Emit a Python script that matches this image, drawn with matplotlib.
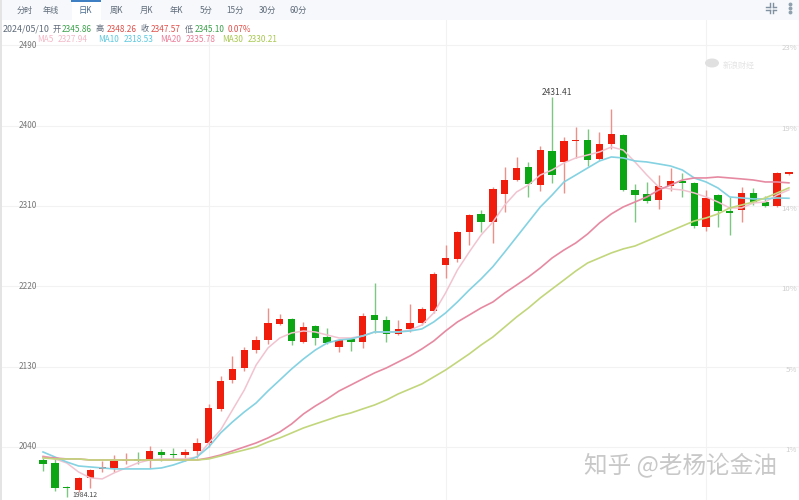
import matplotlib
matplotlib.use('Agg')
import matplotlib.pyplot as plt
from matplotlib.patches import Rectangle, Ellipse
import numpy as np

plt.rcParams['font.family'] = ['Noto Sans CJK SC', 'DejaVu Sans']

# daily candles, price units
opens = [2025.4, 2022.1, 1995.2, 1991.8, 2005.3, 2015.4, 2016.5, 2024.3, 2026.6, 2025.4, 2034.4, 2032.2, 2031.0, 2035.5,
         2044.5, 2082.6, 2115.0, 2128.5, 2148.6, 2159.8, 2177.8, 2183.4, 2157.6, 2175.5, 2163.2, 2152.0, 2161.0, 2157.6,
         2187.8, 2182.2, 2166.6, 2172.2, 2178.9, 2192.3, 2243.8, 2250.6, 2280.8, 2301.0, 2292.0, 2323.4, 2339.0, 2353.6,
         2333.4, 2371.5, 2359.2, 2382.2, 2383.8, 2362.6, 2379.4, 2389.4, 2327.8, 2323.4, 2316.6, 2332.3, 2337.9, 2335.7,
         2286.4, 2322.2, 2304.3, 2305.4, 2324.5, 2314.4, 2309.9, 2345.86]
closes = [2021.0, 1994.1, 1994.1, 2005.3, 2014.2, 2017.6, 2024.3, 2025.4, 2024.3, 2035.5, 2031.0, 2031.0, 2034.4, 2044.5,
          2083.7, 2113.9, 2127.4, 2148.6, 2159.8, 2178.9, 2183.4, 2158.7, 2174.4, 2162.1, 2156.5, 2159.8, 2157.6, 2186.7,
          2182.2, 2166.6, 2172.2, 2178.9, 2194.6, 2233.8, 2251.7, 2280.8, 2299.8, 2292.0, 2329.0, 2339.0, 2352.5, 2334.6,
          2372.6, 2344.6, 2382.7, 2383.3, 2361.4, 2379.4, 2390.6, 2327.8, 2322.2, 2315.5, 2332.3, 2337.9, 2335.7, 2287.5,
          2318.9, 2304.3, 2302.1, 2324.5, 2314.4, 2309.9, 2346.9, 2347.57]
highs = [2027.7, 2026.6, 1996.3, 2006.4, 2015.4, 2024.3, 2031.0, 2033.3, 2034.4, 2041.1, 2037.8, 2038.9, 2037.8, 2050.1,
         2088.2, 2119.5, 2141.9, 2152.0, 2164.3, 2195.7, 2189.0, 2184.5, 2180.0, 2176.6, 2173.3, 2161.0, 2162.1, 2190.1,
         2223.7, 2186.7, 2182.2, 2200.2, 2196.8, 2236.0, 2266.2, 2281.9, 2301.0, 2305.4, 2331.2, 2353.6, 2364.8, 2359.2,
         2377.1, 2431.41, 2387.2, 2398.4, 2396.2, 2392.8, 2418.6, 2390.6, 2334.6, 2336.8, 2344.6, 2352.5, 2346.9, 2336.8,
         2327.8, 2323.4, 2320.0, 2331.2, 2330.1, 2321.1, 2348.0, 2348.26]
lows = [2013.1, 1990.7, 1984.12, 1989.6, 1994.1, 2012.0, 2012.0, 2021.0, 2021.0, 2016.5, 2024.3, 2026.6, 2024.3, 2027.7,
        2040.0, 2080.3, 2111.7, 2125.1, 2145.3, 2155.4, 2176.6, 2154.2, 2156.5, 2154.2, 2155.4, 2146.4, 2147.5, 2150.9,
        2167.7, 2157.6, 2165.4, 2168.8, 2176.6, 2190.1, 2229.3, 2247.2, 2266.2, 2280.8, 2268.5, 2303.2, 2337.9, 2320.0,
        2326.7, 2335.7, 2324.5, 2363.7, 2354.7, 2361.4, 2373.8, 2326.7, 2292.0, 2313.3, 2306.6, 2326.7, 2320.0, 2285.3,
        2281.9, 2286.4, 2277.4, 2292.0, 2311.0, 2308.8, 2308.8, 2345.10]

ma5 = [2029.9, 2026.6, 2022.1, 2012.0, 2005.3, 2004.2, 2010.9, 2016.5, 2022.1, 2025.4, 2026.6, 2026.6, 2026.6, 2028.8,
       2044.5, 2059.0, 2081.4, 2103.8, 2131.8, 2150.9, 2162.1, 2167.7, 2169.9, 2168.8, 2165.4, 2162.1, 2162.1, 2164.3,
       2168.8, 2168.8, 2168.8, 2171.0, 2176.6, 2190.1, 2212.5, 2238.2, 2258.4, 2277.4, 2292.0, 2311.0, 2325.6, 2333.4,
       2344.6, 2350.2, 2358.1, 2363.7, 2367.0, 2370.4, 2376.0, 2372.6, 2359.2, 2344.6, 2331.2, 2329.0, 2327.8, 2324.5,
       2320.0, 2314.4, 2307.7, 2307.7, 2313.3, 2314.4, 2322.2, 2327.94]
ma10 = [2034.4, 2028.8, 2023.2, 2018.7, 2017.6, 2016.5, 2015.4, 2015.4, 2015.4, 2015.4, 2016.5, 2019.8, 2024.3, 2028.8,
        2040.0, 2055.7, 2068.0, 2079.2, 2089.3, 2102.7, 2115.0, 2127.4, 2138.6, 2148.6, 2156.5, 2159.8, 2161.0, 2164.3,
        2168.8, 2168.8, 2168.8, 2169.9, 2172.2, 2180.0, 2190.1, 2202.4, 2215.8, 2228.2, 2242.0, 2258.4, 2275.2, 2292.0,
        2308.8, 2322.2, 2336.8, 2344.6, 2352.5, 2360.3, 2364.8, 2363.7, 2360.3, 2359.2, 2357.0, 2354.7, 2350.2, 2341.3,
        2336.8, 2330.1, 2320.0, 2318.9, 2317.8, 2317.8, 2318.9, 2318.53]
ma20 = [2028.8, 2027.7, 2026.6, 2026.6, 2025.4, 2025.4, 2025.4, 2025.4, 2025.4, 2025.4, 2025.4, 2025.4, 2025.4, 2025.4,
        2027.7, 2031.0, 2035.5, 2040.0, 2044.5, 2050.1, 2056.8, 2065.8, 2077.0, 2085.9, 2093.8, 2102.7, 2109.4, 2116.2,
        2122.9, 2128.5, 2135.2, 2141.9, 2149.8, 2158.7, 2169.9, 2180.0, 2187.8, 2195.7, 2202.4, 2212.5, 2221.4, 2230.4,
        2240.5, 2251.7, 2260.6, 2268.5, 2278.6, 2290.9, 2301.0, 2308.8, 2314.4, 2320.0, 2327.8, 2333.4, 2339.0, 2341.3,
        2341.3, 2342.4, 2341.3, 2340.2, 2339.0, 2336.8, 2336.8, 2335.78]
ma30 = [2027.7, 2026.6, 2026.6, 2026.6, 2025.4, 2025.4, 2025.4, 2025.4, 2025.4, 2025.4, 2025.4, 2025.4, 2025.4, 2025.4,
        2026.6, 2029.9, 2033.3, 2036.6, 2040.0, 2045.6, 2050.1, 2055.7, 2061.3, 2065.8, 2070.2, 2074.7, 2078.1, 2082.6,
        2087.0, 2092.6, 2099.4, 2105.0, 2110.6, 2118.4, 2126.2, 2135.2, 2144.2, 2154.2, 2163.2, 2174.4, 2185.6, 2195.7,
        2206.9, 2217.0, 2227.0, 2237.1, 2246.1, 2251.7, 2257.3, 2261.8, 2265.1, 2270.7, 2276.3, 2281.9, 2287.5, 2293.1,
        2296.5, 2301.0, 2307.7, 2311.0, 2314.4, 2318.9, 2324.5, 2330.21]

price_ticks = [2490, 2400, 2310, 2220, 2130, 2040]
pct_labels = ['23%', '19%', '14%', '10%', '5%', '1%']
month_ticks = [14, 34, 56]
tabs = ['分时', '年线', '日K', '周K', '月K', '年K', '5分', '15分', '30分', '60分']
tab_x = [25, 51, 85, 116, 146, 176, 206, 235, 267, 298]

RED = '#f01c0c'
GREEN = '#0ca514'
TXT = '#5f6b7a'

fig = plt.figure(figsize=(7.99, 5.0), dpi=100)
ax = fig.add_axes([0, 0, 1, 1])
ax.set_xlim(-3.632, 63.85)
ax.set_ylim(1980.6, 2540.6)
ax.axis('off')

# px helper axis for header and labels (y runs down)
px = fig.add_axes([0, 0, 1, 1], zorder=5)
px.set_xlim(0, 799)
px.set_ylim(500, 0)
px.axis('off')
px.patch.set_alpha(0)

for p in price_ticks:
    ax.axhline(p, color='#f2f2f2', lw=0.8, zorder=1)
for m in month_ticks:
    ax.axvline(m, color='#f2f2f2', lw=0.8, zorder=1)

idx = np.arange(len(opens))
o, c, h, l = map(np.array, (opens, closes, highs, lows))
cols = [RED if cc >= oo else GREEN for oo, cc in zip(o, c)]
wick_cols = ['#ee8f88' if cc >= oo else '#7cc880' for oo, cc in zip(o, c)]
ax.vlines(idx, l, h, colors=wick_cols, lw=1.0, zorder=2)
ax.bar(idx, np.maximum(np.abs(c - o), 1.2), bottom=np.minimum(o, c), width=0.62, color=cols,
       linewidth=0, zorder=3)

ax.plot(idx, ma5, color='#f1c3d0', lw=1.1, zorder=4)
ax.plot(idx, ma10, color='#84d2e2', lw=1.2, zorder=4)
ax.plot(idx, ma20, color='#e68aa2', lw=1.2, zorder=4)
ax.plot(idx, ma30, color='#c2d67c', lw=1.2, zorder=4)

# tab bar
px.add_patch(Rectangle((0, 0), 799, 20, color='#f6f8fb', lw=0, zorder=1))
px.add_patch(Rectangle((72, 0), 29, 21, color='white', lw=0, zorder=2))
px.add_patch(Rectangle((71, 0), 30, 1.5, color='#3f7fc4', lw=0, zorder=3))
px.add_patch(Rectangle((0, 0), 1.5, 500, color='#e4e4e4', lw=0, zorder=3))
for name, x in zip(tabs, tab_x):
    px.text(x, 10, name, ha='center', va='center', fontsize=5.9, color='#4a6a90' if name == '日K' else TXT)

# fullscreen icon and menu dots, top right
for sx, sy in [(-1, -1), (1, -1), (-1, 1), (1, 1)]:
    px.plot([771 + sx * 1.5, 771 + sx * 5], [8 + sy * 1.5, 8 + sy * 1.5], color='#8090a0', lw=1.0)
    px.plot([771 + sx * 1.5, 771 + sx * 1.5], [8 + sy * 1.5, 8 + sy * 5], color='#8090a0', lw=1.0)
px.plot([790, 790, 790], [4, 8, 12], ls='none', marker='o', ms=1.8, color='#90a0ae')

# info rows
row1 = [(3, '2024/05/10', TXT, 6.4), (53, '开', TXT, 5.9), (62, '2345.86', '#3aa04a', 5.9), (96, '高', TXT, 5.9),
        (107, '2348.26', '#e0504a', 5.9), (141, '收', TXT, 5.9), (151, '2347.57', '#e0504a', 5.9), (185, '低', TXT, 5.9),
        (195, '2345.10', '#3aa04a', 5.9), (228, '0.07%', '#e0504a', 5.9)]
for x, s, col, fs in row1:
    px.text(x, 29, s, ha='left', va='center', fontsize=fs, color=col)
row2 = [(37, 'MA5', '#f3b8c8'), (58, '2327.94', '#f3b8c8'), (98, 'MA10', '#5cc8e0'), (124, '2318.53', '#5cc8e0'),
        (160, 'MA20', '#ec7f9a'), (186, '2335.78', '#ec7f9a'), (222, 'MA30', '#a8c850'), (248, '2330.21', '#a8c850')]
for x, s, col in row2:
    px.text(x, 39.5, s, ha='left', va='center', fontsize=5.9, color=col)

# price and percent labels
for p in price_ticks:
    ax.annotate(str(p), (0, p), xycoords=('axes fraction', 'data'), xytext=(37, 0), textcoords='offset pixels',
                ha='right', va='center', fontsize=5.9, color='#777777', zorder=6)
for p, s in zip(price_ticks, pct_labels):
    ax.annotate(s, (1, p), xycoords=('axes fraction', 'data'), xytext=(-2, -3), textcoords='offset pixels',
                ha='right', va='center', fontsize=5.6, color='#cfcfcf', zorder=6)

ax.annotate('2431.41', (43, 2431.41), xytext=(5, 0), textcoords='offset pixels', ha='center', va='bottom',
            fontsize=6, color='#444444', zorder=6)
ax.annotate('1984.12', (2, 1984.12), xytext=(18, 2), textcoords='offset pixels', ha='center', va='center',
            fontsize=5, color='#444444', zorder=6, annotation_clip=False)

# watermarks
px.text(739, 65, '新浪财经', ha='center', va='center', fontsize=5.8, color='#e4e4e4')
px.add_patch(Ellipse((712, 63), 14, 9, color='#e0e0e0', lw=0, zorder=2))
px.text(681, 466, '知乎 @老杨论金油', ha='center', va='center', fontsize=17, color='#c8c8c8')

fig.savefig('out.png', dpi=100)
